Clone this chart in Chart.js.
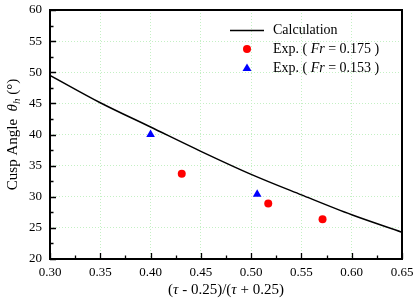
<!DOCTYPE html>
<html>
<head>
<meta charset="utf-8">
<script src="https://cdn.jsdelivr.net/npm/chart.js@4/dist/chart.umd.min.js"></script>
<style>
  html, body { margin: 0; padding: 0; background: #fff; }
</style>
</head>
<body>
<canvas id="cusp" width="415" height="299"></canvas>
<script>
"use strict";

const calcX = [0.30, 0.35, 0.40, 0.45, 0.50, 0.55, 0.60, 0.65];
const calcY = [49.5, 45.1, 41.2, 37.3, 33.6, 30.3, 27.1, 24.3];
const exp175X = [0.431, 0.517, 0.571];
const exp175Y = [33.7, 28.9, 26.4];
const exp153X = [0.400, 0.506];
const exp153Y = [40.0, 30.4];

const SERIF = '"Liberation Serif", "DejaVu Serif", serif';

function pairs(xs, ys) {
  return xs.map((x, i) => ({ x: x, y: ys[i] }));
}

// draws a run of [text, italic, sizeScale, dy] pieces starting at x
function drawPieces(ctx, pieces, x, y, size) {
  pieces.forEach(p => {
    ctx.font = (p[1] ? 'italic ' : '') + Math.round(size * (p[2] || 1)) + 'px ' + SERIF;
    ctx.fillText(p[0], x, y + (p[3] || 0));
    x += ctx.measureText(p[0]).width;
  });
  return x;
}
function piecesWidth(ctx, pieces, size) {
  let w = 0;
  pieces.forEach(p => {
    ctx.font = (p[1] ? 'italic ' : '') + Math.round(size * (p[2] || 1)) + 'px ' + SERIF;
    w += ctx.measureText(p[0]).width;
  });
  return w;
}

const decor = {
  id: 'decor',
  afterDraw(chart) {
    const ctx = chart.ctx;
    const a = chart.chartArea;
    const xs = chart.scales.x, ys = chart.scales.y;
    ctx.save();
    ctx.strokeStyle = '#000';
    ctx.lineWidth = 2;
    ctx.strokeRect(a.left, a.top, a.right - a.left, a.bottom - a.top);

    // inward ticks, major and minor
    ctx.lineWidth = 1.3;
    ctx.beginPath();
    for (let v = 0.30; v <= 0.6501; v += 0.025) {
      const px = Math.round(xs.getPixelForValue(v)) + 0.5;
      const major = Math.abs(v * 20 - Math.round(v * 20)) < 1e-6;
      ctx.moveTo(px, a.bottom);
      ctx.lineTo(px, a.bottom - (major ? 6 : 3.5));
    }
    for (let v = 20; v <= 60.01; v += 2.5) {
      const py = Math.round(ys.getPixelForValue(v)) + 0.5;
      const major = v % 5 === 0;
      ctx.moveTo(a.left, py);
      ctx.lineTo(a.left + (major ? 6 : 3.5), py);
    }
    ctx.stroke();

    ctx.fillStyle = '#000';
    ctx.textBaseline = 'middle';
    ctx.textAlign = 'left';

    // x title
    const xt = [['(', false], ['\u03C4', true], [' - 0.25)/(', false], ['\u03C4', true], [' + 0.25)', false]];
    const xw = piecesWidth(ctx, xt, 15);
    drawPieces(ctx, xt, (a.left + a.right) / 2 - xw / 2, 290, 15);

    // y title (rotated)
    ctx.save();
    ctx.translate(13, (a.top + a.bottom) / 2);
    ctx.rotate(-Math.PI / 2);
    const yt = [['Cusp Angle  ', false], ['\u03B8', true], ['h', true, 0.7, 4], [' (\u00B0)', false]];
    const yw = piecesWidth(ctx, yt, 15);
    drawPieces(ctx, yt, -yw / 2, 0, 15);
    ctx.restore();

    // legend
    ctx.lineWidth = 1.5;
    ctx.beginPath();
    ctx.moveTo(230, 30.5);
    ctx.lineTo(264, 30.5);
    ctx.stroke();
    drawPieces(ctx, [['Calculation', false]], 273, 30, 14);

    ctx.fillStyle = '#ff0000';
    ctx.beginPath();
    ctx.arc(247, 49, 4, 0, Math.PI * 2);
    ctx.fill();
    ctx.fillStyle = '#0000ff';
    ctx.beginPath();
    ctx.moveTo(247, 63.5);
    ctx.lineTo(251.5, 71);
    ctx.lineTo(242.5, 71);
    ctx.closePath();
    ctx.fill();

    ctx.fillStyle = '#000';
    drawPieces(ctx, [['Exp. ( ', false], ['Fr', true], [' = 0.175 )', false]], 273, 49, 14);
    drawPieces(ctx, [['Exp. ( ', false], ['Fr', true], [' = 0.153 )', false]], 273, 68, 14);
    ctx.restore();
  }
};

const gridStyle = {
  color: '#c4f0c4',
  lineWidth: 1,
  drawTicks: false
};

new Chart(document.getElementById('cusp'), {
  type: 'line',
  data: {
    datasets: [
      {
        label: 'Calculation',
        data: pairs(calcX, calcY),
        borderColor: '#000',
        borderWidth: 1.5,
        pointRadius: 0,
        cubicInterpolationMode: 'monotone',
        fill: false
      },
      {
        label: 'Exp. (Fr = 0.175)',
        data: pairs(exp175X, exp175Y),
        showLine: false,
        pointStyle: 'circle',
        pointRadius: 4,
        backgroundColor: '#ff0000',
        borderColor: '#ff0000',
        borderWidth: 0
      },
      {
        label: 'Exp. (Fr = 0.153)',
        data: pairs(exp153X, exp153Y),
        showLine: false,
        pointStyle: 'triangle',
        pointRadius: 5,
        backgroundColor: '#0000ff',
        borderColor: '#0000ff',
        borderWidth: 0
      }
    ]
  },
  options: {
    responsive: false,
    animation: false,
    layout: { padding: { top: 10, right: 13, left: 0, bottom: 0 } },
    plugins: {
      legend: { display: false },
      tooltip: { enabled: false }
    },
    scales: {
      x: {
        type: 'linear',
        min: 0.30,
        max: 0.65,
        grid: Object.assign({}, gridStyle),
        border: { display: false, dash: [1, 2] },
        ticks: {
          stepSize: 0.05,
          padding: 6,
          color: '#000',
          font: { family: SERIF, size: 13 },
          callback: v => v.toFixed(2)
        },
        afterFit(scale) {
          scale.height = 40;
          scale.paddingLeft = 0;
          scale.paddingRight = 0;
        }
      },
      y: {
        min: 20,
        max: 60,
        grid: Object.assign({}, gridStyle),
        border: { display: false, dash: [1, 2] },
        ticks: {
          stepSize: 5,
          padding: 8,
          color: '#000',
          font: { family: SERIF, size: 13 }
        },
        afterFit(scale) {
          scale.width = 50;
          scale.paddingTop = 0;
          scale.paddingBottom = 0;
        }
      }
    }
  },
  plugins: [decor]
});
</script>
</body>
</html>
